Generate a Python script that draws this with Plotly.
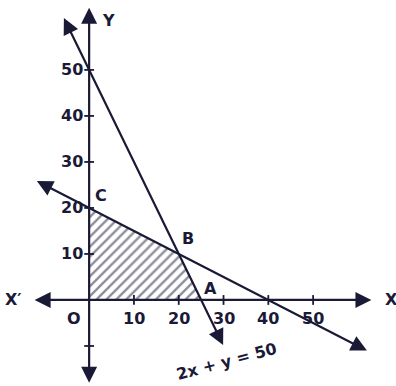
import plotly.graph_objects as go

# values
ticks = [10, 20, 30, 40, 50]
neg_ticks = [-10]
region_x = [0, 25, 20, 0]
region_y = [0, 0, 10, 20]
line1_x = [-5.8, 29.9]   # 2x + y = 50
line1_y = [61.6, -9.8]
line2_x = [-12, 62]      # x + 2y = 40
line2_y = [26, -11]
x_axis_ends = [-12.5, 63]
y_axis_ends = [-18.3, 63.5]
points = {"O": (0, 0), "A": (25, 0), "B": (20, 10), "C": (0, 20)}

INK = "#1a1a36"
FONT = "DejaVu Sans"

fig = go.Figure()

# hatched feasible region
fig.add_trace(go.Scatter(
    x=region_x + region_x[:1], y=region_y + region_y[:1],
    fill="toself", mode="lines", line=dict(width=0),
    fillcolor="rgba(0,0,0,0)",
    fillpattern=dict(shape="/", size=7, solidity=0.33, fgcolor=INK,
                     bgcolor="rgba(0,0,0,0)"),
    hoverinfo="skip", showlegend=False,
))

# tick marks
fig.add_trace(go.Scatter(
    x=ticks, y=[0] * len(ticks), mode="markers",
    marker=dict(symbol="line-ns", size=7, line=dict(width=1.8, color=INK)),
    hoverinfo="skip", showlegend=False,
))
fig.add_trace(go.Scatter(
    x=[0] * (len(ticks) + len(neg_ticks)), y=ticks + neg_ticks, mode="markers",
    marker=dict(symbol="line-ew", size=7, line=dict(width=1.8, color=INK)),
    hoverinfo="skip", showlegend=False,
))


def arrow_line(xs, ys):
    fig.add_annotation(
        x=xs[1], y=ys[1], ax=xs[0], ay=ys[0],
        xref="x", yref="y", axref="x", ayref="y",
        text="", showarrow=True, arrowside="end+start",
        arrowhead=2, arrowsize=1.45, arrowwidth=2.2, arrowcolor=INK,
    )


arrow_line(x_axis_ends, [0, 0])
arrow_line([0, 0], y_axis_ends)
arrow_line(line1_x, line1_y)
arrow_line(line2_x, line2_y)

lab = dict(family=FONT, size=16, color=INK, weight="bold")

for t in ticks:
    fig.add_annotation(x=t, y=0, text=str(t), showarrow=False,
                       xanchor="center", yanchor="top", yshift=-7, font=lab)
    fig.add_annotation(x=0, y=t, text=str(t), showarrow=False,
                       xanchor="right", yanchor="middle", xshift=-4, font=lab)

offsets = {"O": (-15, -19), "A": (9, 11), "B": (9, 15), "C": (12, 12)}
for name, (px, py) in points.items():
    dx, dy = offsets[name]
    fig.add_annotation(x=px, y=py, text=name, showarrow=False,
                       xshift=dx, yshift=dy, font=lab)

fig.add_annotation(x=0, y=y_axis_ends[1], text="Y", showarrow=False,
                   xshift=19, yshift=-13, font=lab)
fig.add_annotation(x=x_axis_ends[1], y=0, text="X", showarrow=False,
                   xshift=20, font=lab)
fig.add_annotation(x=x_axis_ends[0], y=0, text="X\u2032", showarrow=False,
                   xshift=-20, font=lab)
fig.add_annotation(x=30.6, y=-13.4, text="2x + y = 50", showarrow=False,
                   textangle=-15, font=lab)

fig.update_xaxes(range=[-19.9, 68.5], visible=False, fixedrange=True)
fig.update_yaxes(range=[-18.7, 65.2], visible=False, fixedrange=True)
fig.update_layout(
    width=396, height=386,
    margin=dict(l=0, r=0, t=0, b=0),
    paper_bgcolor="white", plot_bgcolor="white",
    showlegend=False,
)

fig.write_html("out.html", config={"displayModeBar": False},
               post_script="document.body.style.margin='0px';")
